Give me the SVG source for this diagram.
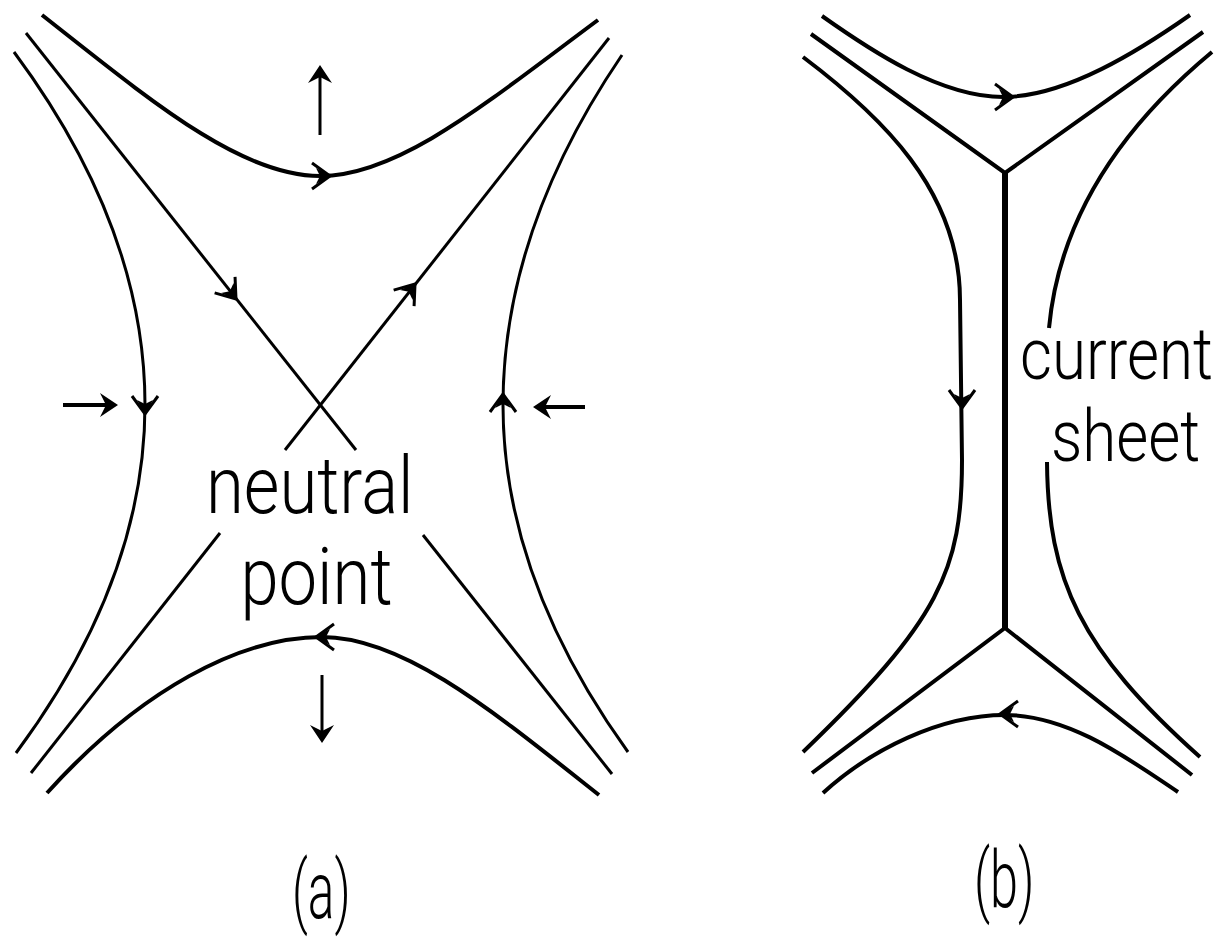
<svg xmlns="http://www.w3.org/2000/svg" width="1230" height="937" viewBox="0 0 1230 937">
<defs>
<style>
.ln{fill:none;stroke:#000;stroke-width:3}
.th{stroke-width:4}
.sheet{stroke-width:6}
.lbl{font-family:Roboto,"Liberation Sans",sans-serif;font-weight:300;font-size:80px;fill:#000}
.sm{font-size:72px}
</style>
<marker id="ah" markerUnits="userSpaceOnUse" markerWidth="30" markerHeight="30" viewBox="-20 -15 30 30" refX="-8" refY="0" orient="auto">
<path d="M0,0 L-18,-12 L-12,0 L-18,12 Z" fill="#000"/>
</marker>
<g id="barb">
<path d="M-18,-13 L0,0 L-18,13" fill="none" stroke="#000" stroke-width="3"/>
<path d="M1,0 L-14,-8 L-10,0 L-14,8 Z" fill="#000"/>
</g>
</defs>
<rect width="1230" height="937" fill="#fff"/>

<g id="panel-a">
<g id="a-lines">
<path class="ln th" d="M42,15 C150,100 240,176 320,176 C400,176 490,100 598,20"/>
<path class="ln th" d="M47,793 C140,690 240,637 322,637 C404,637 494,712 599,795"/>
<path class="ln" d="M14,52 Q145,228.5 145,405 Q145,579 16,753"/>
<path class="ln" d="M622,55 Q503,230 503,405 Q503,578.5 628,752"/>
<path class="ln" d="M26,33 L356,450"/>
<path class="ln" d="M609,38 L285,450"/>
<path class="ln" d="M220,533 L31,773"/>
<path class="ln" d="M423,535 L612,774"/>
</g>
<g id="a-flow-arrows">
<use href="#barb" transform="translate(330,176)"/>
<use href="#barb" transform="translate(316,637) rotate(180)"/>
<use href="#barb" transform="translate(145,414) rotate(90)"/>
<use href="#barb" transform="translate(503,394) rotate(-90)"/>
<use href="#barb" transform="translate(236,299) rotate(51.7)"/>
<use href="#barb" transform="translate(415,284) rotate(-51.8)"/>
</g>
<g id="a-motion-arrows">
<path class="ln th" d="M63,405 L110,405" marker-end="url(#ah)"/>
<path class="ln th" d="M585,407 L541,407" marker-end="url(#ah)"/>
<path class="ln" d="M320,135 L320,73" marker-end="url(#ah)"/>
<path class="ln" d="M322,675 L322,735" marker-end="url(#ah)"/>
</g>
<g id="a-labels">
<text class="lbl" transform="translate(206,513) scale(0.86,1)"><tspan x="0" y="0">neutral</tspan><tspan x="40" y="91">point</tspan></text>
<text class="lbl" transform="translate(292,918) scale(0.62,1)">(a)</text>
</g>
</g>

<g id="panel-b">
<g id="b-lines">
<path class="ln th" d="M822,16 C870,50 940,97 1003,97 C1066,97 1140,50 1190,15"/>
<path class="ln th" d="M811,34 L1005,173 L1203,32"/>
<path class="ln sheet" d="M1005,173 L1005,628"/>
<path class="ln th" d="M812,773 L1005,628 L1192,775"/>
<path class="ln th" d="M823,793 C870,750 940,715 1005,715 C1070,715 1130,760 1178,792"/>
<path class="ln th" d="M803,57 C880,115 960,190 960,300 L962,460 C962,570 940,620 803,752"/>
<path class="ln th" d="M1212,52 C1130,120 1060,210 1049,328"/>
<path class="ln th" d="M1047,462 C1048,580 1080,650 1200,757"/>
</g>
<g id="b-flow-arrows">
<use href="#barb" transform="translate(1013,97)"/>
<use href="#barb" transform="translate(1000,714) rotate(180)"/>
<use href="#barb" transform="translate(962,408) rotate(90)"/>
</g>
<g id="b-labels">
<text class="lbl sm" transform="translate(1020,379) scale(0.86,1)"><tspan x="0" y="0">current</tspan><tspan x="36" y="82">sheet</tspan></text>
<text class="lbl" transform="translate(974,907) scale(0.63,1)">(b)</text>
</g>
</g>
</svg>
